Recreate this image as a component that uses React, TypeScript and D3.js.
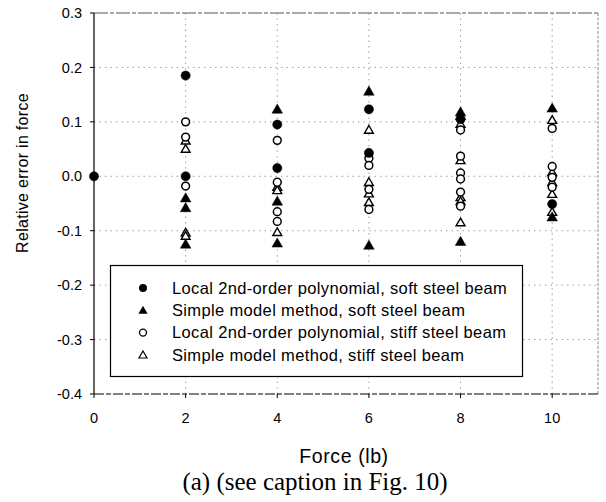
import React from "react";
import * as d3 from "d3";

const xTicks = [0, 2, 4, 6, 8, 10];
const yTicks = [0.3, 0.2, 0.1, 0.0, -0.1, -0.2, -0.3, -0.4];

// [force, relative error]
const softPoly: [number, number][] = [
  [0, 0.0],
  [2, 0.185], [2, 0.0],
  [4, 0.095], [4, 0.015],
  [6, 0.123], [6, 0.043],
  [8, 0.105],
  [10, -0.051],
];
const softSimple: [number, number][] = [
  [2, -0.04], [2, -0.058], [2, -0.125],
  [4, 0.123], [4, -0.046], [4, -0.123],
  [6, 0.156], [6, -0.127],
  [8, 0.118], [8, 0.111], [8, -0.12],
  [10, 0.125], [10, -0.075],
];
const stiffPoly: [number, number][] = [
  [2, 0.1], [2, 0.072], [2, -0.018],
  [4, 0.066], [4, -0.011], [4, -0.065], [4, -0.083],
  [6, 0.033], [6, 0.02], [6, -0.024], [6, -0.061],
  [8, 0.085], [8, 0.037], [8, 0.006], [8, -0.005], [8, -0.029], [8, -0.055],
  [10, 0.088], [10, 0.018], [10, -0.002], [10, -0.02],
];
const stiffSimple: [number, number][] = [
  [2, 0.065], [2, 0.05], [2, -0.104], [2, -0.11],
  [4, -0.02], [4, -0.026], [4, -0.103],
  [6, 0.085], [6, -0.011], [6, -0.032], [6, -0.048],
  [8, 0.096], [8, 0.029], [8, -0.039], [8, -0.046], [8, -0.085],
  [10, 0.103], [10, 0.007], [10, -0.011], [10, -0.033], [10, -0.066],
];

const legendLabels = [
  "Local 2nd-order polynomial, soft steel beam",
  "Simple model method, soft steel beam",
  "Local 2nd-order polynomial, stiff steel beam",
  "Simple model method, stiff steel beam",
];

const W = 606;
const H = 502;
const x = d3.scaleLinear().domain([0, 11]).range([94, 598]);
const y = d3.scaleLinear().domain([-0.4, 0.3]).range([394, 13]);

const fmt = (v: number) => (v < 0 ? "-" : "") + Math.abs(v).toFixed(1);

type Kind = "fc" | "ft" | "oc" | "ot";

function Marker({ kind, cx, cy }: { kind: Kind; cx: number; cy: number }) {
  const filled = kind === "fc" || kind === "ft";
  if (kind === "fc" || kind === "oc") {
    return (
      <circle
        cx={cx}
        cy={cy}
        r={filled ? 4.6 : 3.9}
        fill={filled ? "#000" : "#fff"}
        stroke="#000"
        strokeWidth={filled ? 0.5 : 1.5}
      />
    );
  }
  const tri = d3.symbol().type(d3.symbolTriangle).size(filled ? 48 : 34)();
  return (
    <path
      d={tri as string}
      transform={`translate(${cx},${cy + (filled ? 0.8 : 0.6)})`}
      fill={filled ? "#000" : "#fff"}
      stroke="#000"
      strokeWidth={filled ? 0.5 : 1.4}
    />
  );
}

export default function App() {
  const series: { kind: Kind; data: [number, number][] }[] = [
    { kind: "ot", data: stiffSimple },
    { kind: "oc", data: stiffPoly },
    { kind: "ft", data: softSimple },
    { kind: "fc", data: softPoly },
  ];
  const legendKinds: Kind[] = ["fc", "ft", "oc", "ot"];
  const font = "'Liberation Sans', Arial, Helvetica, sans-serif";
  return (
    <svg
      width={W}
      height={H}
      style={{ position: "absolute", left: 0, top: 0, background: "#fff" }}
      fontFamily={font}
    >
      <rect x={0} y={0} width={W} height={H} fill="#fff" />
      {/* grid */}
      {yTicks.slice(1, -1).map((t) => (
        <line
          key={"gy" + t}
          x1={x(0)}
          x2={x(11)}
          y1={y(t)}
          y2={y(t)}
          stroke="#888"
          strokeWidth={0.8}
          strokeDasharray="1.5 4"
        />
      ))}
      {xTicks.slice(1).map((t) => (
        <line
          key={"gx" + t}
          x1={x(t)}
          x2={x(t)}
          y1={y(0.3)}
          y2={y(-0.4)}
          stroke="#888"
          strokeWidth={0.8}
          strokeDasharray="1.5 4"
        />
      ))}
      {/* frame */}
      <line x1={x(0)} x2={x(11)} y1={y(0.3)} y2={y(0.3)} stroke="#555" strokeWidth={1} strokeDasharray="14 2 4 2" />
      <line x1={x(11)} x2={x(11)} y1={y(0.3)} y2={y(-0.4)} stroke="#888" strokeWidth={1} strokeDasharray="3 1.5" />
      <line x1={x(0)} x2={x(0)} y1={y(0.3)} y2={y(-0.4)} stroke="#000" strokeWidth={1.2} />
      <line x1={x(0)} x2={x(11)} y1={y(-0.4)} y2={y(-0.4)} stroke="#000" strokeWidth={1} strokeDasharray="10 2 5 2" />
      {/* y ticks */}
      {yTicks.map((t) => (
        <g key={"yt" + t}>
          <line x1={x(0) - 4} x2={x(0)} y1={y(t)} y2={y(t)} stroke="#000" strokeWidth={1} />
          <text x={82} y={y(t)} dy="0.35em" textAnchor="end" fontSize={14.5} fill="#000">
            {fmt(t)}
          </text>
        </g>
      ))}
      {/* x ticks */}
      {xTicks.map((t) => (
        <g key={"xt" + t}>
          <line x1={x(t)} x2={x(t)} y1={y(-0.4)} y2={y(-0.4) + 4} stroke="#000" strokeWidth={1} />
          <text x={x(t)} y={423} textAnchor="middle" fontSize={14.5} fill="#000">
            {t}
          </text>
        </g>
      ))}
      {/* axis titles */}
      <text
        transform={`translate(28,${173}) rotate(-90)`}
        textAnchor="middle"
        fontSize={16}
        letterSpacing={0.3}
        fill="#000"
      >
        Relative error in force
      </text>
      <text x={344} y={463} textAnchor="middle" fontSize={19.5} letterSpacing={0.6} fill="#000">
        Force (lb)
      </text>
      <text
        x={315}
        y={490}
        textAnchor="middle"
        fontSize={25}
        fontFamily="'Liberation Serif', 'Times New Roman', serif"
        fill="#000"
      >
        (a) (see caption in Fig. 10)
      </text>
      {/* points */}
      {series.map((s) =>
        s.data.map((d, i) => (
          <Marker key={s.kind + i} kind={s.kind} cx={x(d[0])} cy={y(d[1])} />
        ))
      )}
      {/* legend */}
      <rect x={110.5} y={265.5} width={412} height={111} fill="#fff" stroke="#000" strokeWidth={1.2} />
      {legendLabels.map((lab, i) => (
        <g key={lab}>
          <g transform={`translate(${143},${288 + i * 22.3})`}>
            {legendKinds[i] === "fc" && <circle r={4} fill="#000" />}
            {legendKinds[i] === "oc" && <circle r={3.5} fill="#fff" stroke="#000" strokeWidth={1.3} />}
            {legendKinds[i] === "ft" && (
              <path d={d3.symbol().type(d3.symbolTriangle).size(36)() as string} transform="translate(0,0.8)" fill="#000" />
            )}
            {legendKinds[i] === "ot" && (
              <path
                d={d3.symbol().type(d3.symbolTriangle).size(28)() as string}
                transform="translate(0,0.8)"
                fill="#fff"
                stroke="#000"
                strokeWidth={1.2}
              />
            )}
          </g>
          <text x={172} y={288 + i * 22.3} dy="0.35em" fontSize={16.5} letterSpacing={0.35} fill="#000">
            {lab}
          </text>
        </g>
      ))}
    </svg>
  );
}
